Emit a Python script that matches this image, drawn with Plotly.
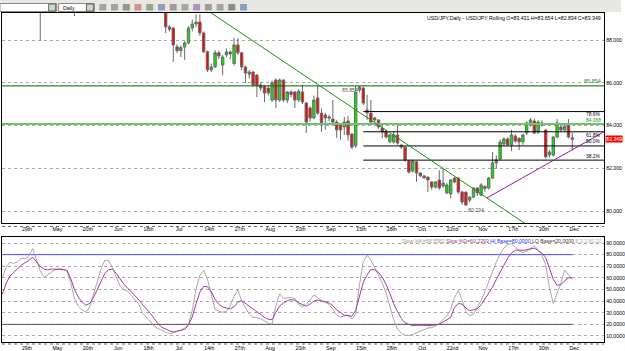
import plotly.graph_objects as go

W, H = 625, 351

# ---------------- data ----------------
bars = list(range(43, 151))
opens = [89.50, 88.61, 88.56, 87.68, 87.50, 87.67, 87.86, 88.56, 88.75, 88.84,
         88.33, 87.45, 86.60, 86.74, 87.40, 86.83, 87.30, 87.44, 86.90, 87.77,
         87.40, 86.74, 86.40, 86.50, 86.36, 85.90, 85.85, 85.75, 85.19, 86.13,
         85.19, 86.13, 85.19, 85.57, 85.57, 85.19, 85.57, 85.05, 84.82, 84.35,
         85.29, 84.58, 84.49, 84.40, 84.30, 84.16, 84.02, 83.93, 84.21, 83.60,
         83.05, 85.66, 85.75, 84.73, 84.58, 84.35, 84.26, 83.88, 83.74, 83.23,
         83.23, 83.56, 83.09, 82.99, 82.34, 81.87, 82.30, 81.78, 81.64, 81.59,
         81.36, 81.12, 81.45, 81.17, 80.84, 80.80, 81.54, 81.54, 80.89, 80.89,
         80.51, 80.65, 81.08, 80.75, 81.15, 81.08, 81.54, 82.25, 82.43, 83.13,
         83.37, 83.09, 83.50, 83.40, 83.23, 83.65, 84.02, 84.21, 83.70, 84.12,
         83.79, 82.62, 82.62, 83.46, 83.93, 83.79, 84.02, 83.431]
highs = [89.80, 88.70, 88.60, 87.80, 87.75, 87.95, 88.65, 88.95, 89.20, 89.20,
         88.40, 87.50, 86.90, 87.53, 87.50, 87.30, 87.60, 87.50, 88.10, 88.10,
         87.45, 86.80, 86.60, 86.55, 86.40, 86.00, 85.90, 85.90, 86.10, 86.20,
         86.20, 86.15, 85.60, 85.65, 85.60, 85.70, 85.90, 85.10, 84.90, 85.40,
         85.85, 84.80, 84.60, 84.50, 85.19, 84.25, 84.10, 84.40, 84.45, 83.65,
         85.854, 85.85, 85.82, 85.43, 85.20, 84.40, 84.30, 84.00, 83.80, 83.60,
         83.70, 84.02, 83.10, 83.00, 82.40, 82.40, 82.35, 81.80, 81.70, 81.60,
         81.40, 81.40, 81.90, 81.95, 81.30, 81.50, 81.60, 81.60, 80.95, 80.90,
         80.70, 81.10, 81.10, 81.30, 81.20, 81.60, 82.76, 82.60, 83.35, 83.45,
         83.45, 83.79, 83.60, 83.45, 83.60, 84.20, 84.35, 84.30, 84.25, 84.25,
         83.85, 82.85, 83.50, 84.30, 84.00, 84.10, 84.30, 83.654]
lows = [88.33, 88.40, 86.97, 87.39, 87.20, 87.06, 87.80, 88.40, 88.60, 88.20,
        87.40, 86.50, 86.50, 86.70, 87.10, 86.36, 87.20, 87.10, 86.80, 87.30,
        86.60, 85.99, 86.20, 85.80, 85.33, 85.60, 85.10, 85.40, 85.10, 84.82,
        85.10, 85.10, 85.05, 85.30, 84.82, 85.10, 85.00, 83.65, 84.20, 84.30,
        84.50, 83.70, 83.80, 84.20, 84.10, 83.42, 83.32, 83.55, 83.30, 82.90,
        82.95, 85.55, 84.95, 84.26, 84.10, 84.10, 83.85, 83.40, 83.40, 83.20,
        83.15, 83.10, 82.90, 82.30, 81.75, 81.80, 81.36, 81.60, 81.50, 80.89,
        81.00, 81.05, 81.00, 81.10, 80.80, 80.60, 81.30, 80.80, 80.30, 80.234,
        80.40, 80.60, 80.70, 80.70, 80.90, 81.00, 81.50, 82.00, 82.40, 83.05,
        83.05, 82.80, 83.20, 82.85, 83.10, 83.55, 83.95, 83.60, 83.60, 83.95,
        82.45, 82.50, 82.55, 83.40, 83.70, 83.70, 83.40, 82.834]
closes = [88.61, 88.50, 87.77, 87.50, 87.65, 87.86, 88.56, 88.75, 88.84, 88.33,
          87.45, 86.60, 86.74, 87.40, 87.25, 87.20, 87.44, 87.35, 87.77, 87.40,
          86.74, 86.46, 86.50, 85.90, 85.85, 85.75, 85.52, 85.52, 86.00, 85.19,
          86.13, 85.19, 85.57, 85.45, 85.19, 85.60, 85.10, 84.16, 84.35, 85.19,
          84.58, 84.12, 84.35, 84.35, 84.16, 83.79, 83.79, 84.16, 83.56, 82.99,
          85.55, 85.80, 85.05, 84.60, 84.16, 84.26, 83.93, 83.70, 83.46, 83.56,
          83.56, 83.18, 82.99, 82.39, 81.82, 82.34, 81.78, 81.64, 81.55, 81.45,
          81.12, 81.36, 81.08, 81.31, 81.22, 81.45, 81.36, 80.89, 80.42, 80.28,
          80.65, 81.08, 80.84, 81.22, 81.05, 81.54, 82.25, 82.39, 83.23, 83.37,
          83.09, 83.56, 83.27, 83.23, 83.56, 84.12, 84.26, 83.65, 84.16, 84.02,
          82.53, 82.76, 83.46, 84.12, 83.79, 83.97, 83.46, 83.349]

# earlier bars mostly above the visible price window (only their lower wicks show)
early_bars = [10, 19]
early_open = [90.60, 90.40]
early_high = [91.20, 90.80]
early_low = [87.98, 89.12]
early_close = [90.20, 90.00]

stoch_bars = list(range(0, 151))
stoch_k = [60, 69, 73.6, 72.5, 73.8, 77, 76.5, 79, 85.2, 75,
           66, 60.5, 63, 65.6, 67.3, 67.8, 67.4, 66, 56, 42,
           35.4, 32.5, 30.6, 35, 45, 56.6, 67.5, 75.2, 74.8, 69,
           60.5, 53, 50, 48.4, 45, 41, 37, 29.3, 25.7, 22.6,
           18.5, 16.3, 14.6, 12.8, 11.8, 12.8, 13.9, 15, 16.8, 20,
           32, 50.5, 62.2, 66.4, 58.8, 46, 33, 31.3, 30.4, 31.1,
           36, 44, 49.6, 40, 34.9, 28.7, 25.9, 25.9, 24.8, 23.1,
           21, 20.2, 36, 46.5, 42.5, 42.7, 43, 42.5, 37, 35,
           37.5, 41, 45.3, 43, 40, 38.9, 37, 33, 28, 26.2,
           27.3, 28.2, 24.6, 29, 54, 74, 79.5, 75.3, 69, 62.2,
           55.2, 47, 35, 24, 16, 12.5, 10.5, 10.4, 11.3, 12.8,
           14.5, 16, 16.8, 17.2, 18.4, 21, 24.5, 27.3, 32.7, 43,
           49, 41, 31, 27.4, 28.8, 34.2, 40.6, 48, 56.7, 65.4,
           73.8, 80.4, 85.8, 88.7, 89.4, 86.5, 83.4, 81.9, 83, 85.2,
           87.7, 84, 79.4, 71.3, 51.5, 38, 46.7, 55.3, 66.8, 62.2,
           58.5582]
stoch_d = [46, 55, 61.5, 64.8, 68, 70.9, 73.1, 75, 77.8, 74.2,
           69.8, 67.5, 66.9, 67.6, 67.7, 67.3, 67, 66.7, 59.7, 50,
           43.4, 39.3, 36.5, 38, 43, 49.9, 57.5, 64, 67.1, 67.7,
           64, 59, 54.5, 51.2, 48, 44.7, 40.9, 36.7, 33.4, 29.3,
           24.9, 20.5, 17.4, 15.6, 14.5, 13.4, 14, 14.9, 15.6, 19.5,
           26.4, 37.8, 47.7, 52.7, 52.4, 48.2, 41.5, 37.2, 35, 34.1,
           33.3, 35.2, 39, 40.4, 37.8, 35.5, 33.2, 31, 28.5, 26,
           24.4, 24, 30.4, 35.8, 38.4, 40.4, 41.3, 40.7, 38.5, 37,
           35.6, 37.5, 40, 40.9, 40.3, 39.6, 38.4, 36, 32.5, 30,
           27.9, 27.4, 27, 32, 45, 56.3, 62.5, 67.2, 67, 64.7,
           60.6, 54.4, 46.6, 37.7, 31, 25.2, 21.2, 19.8, 18.8, 19.2,
           19.4, 19.2, 18.8, 19, 19.5, 20.1, 22, 24, 26, 34.5,
           38, 37.3, 34, 31.7, 32.3, 33.5, 36.8, 42, 47, 52,
           58.6, 65, 71.4, 77, 81.5, 83.7, 84, 83.7, 84.3, 85,
           85.6, 83.6, 81.4, 77.5, 68.6, 58.7, 53.6, 54.3, 57.4, 60,
           60.2293]
hi_base, lo_base = 80.0, 20.0

swing_high, swing_low = 85.854, 80.234
support_level = 84.068
fib_ratios = [0.786, 0.618, 0.5, 0.382]
fib_labels = ["78.6%", "61.8%", "50.0%", "38.2%"]
fib_start_bar = 95

down_trend = [(50, 89.86), (145, 78.53)]
up_trend = [(127.5, 80.61), (165, 84.37)]

date_ticks = [6.5, 14.5, 22.5, 30.5, 38.5, 46.5, 54.5, 62.5, 70.5, 78.5,
              86.5, 94.5, 102.5, 110.5, 118.5, 126.5, 134.5, 142.5, 150.5]
date_labels = ["29th", "May", "20th", "Jun", "18th", "Jul", "14th", "27th", "Aug", "20th",
               "Sep", "15th", "28th", "Oct", "22nd", "Nov", "17th", "30th", "Dec"]
price_ticks = [80, 82, 84, 86, 88]
stoch_ticks = [10, 20, 30, 40, 50, 60, 70, 80, 90]

# ---------------- helpers ----------------
FONT = "Liberation Sans"
FS = 5.2
XR = [-0.07, 158.37]


def pyp(px):
    return 1 - px / H


def pxp(px):
    return px / W


fig = go.Figure()

fig.add_trace(go.Candlestick(
    x=early_bars + bars,
    open=early_open + opens, high=early_high + highs,
    low=early_low + lows, close=early_close + closes,
    increasing=dict(fillcolor="#00ee00", line=dict(color="#6a6a6a", width=1)),
    decreasing=dict(fillcolor="#ff0000", line=dict(color="#6a6a6a", width=1)),
    whiskerwidth=0, xaxis="x", yaxis="y", showlegend=False, hoverinfo="skip"))

fig.add_trace(go.Scatter(x=stoch_bars, y=[hi_base] * len(stoch_bars), mode="lines",
                         line=dict(color="#4b4bff", width=1), xaxis="x2", yaxis="y2",
                         showlegend=False, hoverinfo="skip"))
fig.add_trace(go.Scatter(x=stoch_bars, y=[lo_base] * len(stoch_bars), mode="lines",
                         line=dict(color="#505050", width=1), xaxis="x2", yaxis="y2",
                         showlegend=False, hoverinfo="skip"))
fig.add_trace(go.Scatter(x=stoch_bars, y=stoch_k, mode="lines",
                         line=dict(color="#a8a8a8", width=1), xaxis="x2", yaxis="y2",
                         showlegend=False, hoverinfo="skip"))
fig.add_trace(go.Scatter(x=stoch_bars, y=stoch_d, mode="lines",
                         line=dict(color="#a838a8", width=1), xaxis="x2", yaxis="y2",
                         showlegend=False, hoverinfo="skip"))

shapes = []
# toolbar strip
shapes.append(dict(type="rect", xref="paper", yref="paper", x0=0, x1=1, y0=pyp(12), y1=1,
                   fillcolor="#e9e7e2", line=dict(width=0), layer="below"))
for (a, b) in [(0, 57), (59, 95)]:
    shapes.append(dict(type="rect", xref="paper", yref="paper", x0=pxp(a), x1=pxp(b),
                       y0=pyp(11.5), y1=pyp(3.5), fillcolor="white",
                       line=dict(color="#8a8a8a", width=1)))
    shapes.append(dict(type="rect", xref="paper", yref="paper", x0=pxp(b - 8), x1=pxp(b - 1),
                       y0=pyp(11), y1=pyp(4), fillcolor="#cfd8c8",
                       line=dict(color="#5a6a5a", width=1)))
icon_cols = ["#6d6d6d", "#6d6d6d", "#505050", "#c05050", "#4a7a4a", "#506090", "#606060",
             "#707070", "#8050a0", "#606060", "#707070", "#404040", "#4060a0"]
for i, c in enumerate(icon_cols):
    x0 = 100 + i * 11.8
    shapes.append(dict(type="rect", xref="paper", yref="paper", x0=pxp(x0), x1=pxp(x0 + 7),
                       y0=pyp(10.5), y1=pyp(4), fillcolor=c, opacity=0.55, line=dict(width=0)))
# dashed tick rows under panels
for yy in (226.5, 344):
    shapes.append(dict(type="line", xref="paper", yref="paper", x0=pxp(2), x1=pxp(608),
                       y0=pyp(yy), y1=pyp(yy), line=dict(color="#6a6a6a", width=1, dash="3px,3px")))
# key horizontal levels
shapes.append(dict(type="line", xref="x domain", yref="y", x0=0, x1=1, y0=swing_high, y1=swing_high,
                   line=dict(color="#006400", width=1)))
shapes.append(dict(type="line", xref="x domain", yref="y", x0=0, x1=1, y0=support_level,
                   y1=support_level, line=dict(color="#6cc46c", width=2)))
# fibonacci levels
fib_levels = [swing_low + r * (swing_high - swing_low) for r in fib_ratios]
for lv in fib_levels:
    shapes.append(dict(type="line", xref="x", yref="y", x0=fib_start_bar, x1=XR[1], y0=lv, y1=lv,
                       line=dict(color="black", width=1)))
# trend lines
shapes.append(dict(type="line", xref="x", yref="y", x0=down_trend[0][0], y0=down_trend[0][1],
                   x1=down_trend[1][0], y1=down_trend[1][1], line=dict(color="#119911", width=1)))
shapes.append(dict(type="line", xref="x", yref="y", x0=up_trend[0][0], y0=up_trend[0][1],
                   x1=up_trend[1][0], y1=up_trend[1][1], line=dict(color="#9a1a9a", width=1)))

ann = []
small = dict(showarrow=False, borderpad=0)
LFS = 4.9
ann.append(dict(xref="paper", yref="paper", x=pxp(606), y=pyp(18), xanchor="right", yanchor="middle",
                text=f"USD/JPY,Daily - USD/JPY Rolling O={opens[-1]:.3f} H={highs[-1]:.3f} "
                     f"L={lows[-1]:.3f} C={closes[-1]:.3f}",
                font=dict(family=FONT, size=FS, color="black"), **small))
ann.append(dict(xref="paper", yref="y", x=pxp(606), y=swing_high, xanchor="right", yanchor="bottom",
                text=f"{swing_high:.3f}", yshift=1,
                font=dict(family=FONT, size=FS + 0.3, color="#2e8b2e"), **small))
ann.append(dict(xref="paper", yref="y", x=pxp(606), y=support_level, xanchor="right", yanchor="bottom",
                text=f"{support_level:.3f}", yshift=0.5,
                font=dict(family=FONT, size=LFS, color="#2e8b2e"), **small))
for lv, lab, anch, sh in zip(fib_levels, fib_labels, ["top", "top", "bottom", "bottom"],
                             [1.0, -0.5, 0.5, 0.5]):
    ann.append(dict(xref="paper", yref="y", x=pxp(606), y=lv, xanchor="right", yanchor=anch,
                    text=lab, yshift=sh, font=dict(family=FONT, size=LFS, color="black"), **small))
ann.append(dict(xref="x", yref="y", x=94, y=swing_high, xanchor="right", yanchor="top",
                text=f"{swing_high:.3f}", font=dict(family=FONT, size=FS, color="#555555"), **small))
ann.append(dict(xref="x", yref="y", x=122, y=swing_low, xanchor="left", yanchor="top", xshift=1,
                text=f"{swing_low:.3f}", font=dict(family=FONT, size=FS, color="#555555"), **small))
ann.append(dict(xref="paper", yref="y", x=pxp(609), y=closes[-1], xanchor="left", yanchor="middle",
                text=f"{closes[-1]:.3f}", bgcolor="#ff0000",
                font=dict(family=FONT, size=FS, color="white"), **small))
hdr = (f'<span style="color:#9a9a9a">Slow %K={stoch_k[-1]:.4f}</span> '
       f'<span style="color:#a030a0">Slow %D={stoch_d[-1]:.4f}</span> '
       f'<span style="color:#3030ff">HI Base={hi_base:.4f}</span> '
       f'<span style="color:#404040">LO Base={lo_base:.4f}</span> '
       f'<span style="color:#b0b0b0">8,3,3,80,20</span>')
ann.append(dict(xref="paper", yref="paper", x=pxp(606), y=pyp(240.5), xanchor="right", yanchor="middle",
                text=hdr, font=dict(family=FONT, size=FS), **small))
ann.append(dict(xref="paper", yref="paper", x=pxp(62), y=pyp(7.5), xanchor="left", yanchor="middle",
                text="Daily", font=dict(family=FONT, size=FS, color="black"), **small))

axis_common = dict(showline=True, mirror=True, linecolor="black", linewidth=1, zeroline=False,
                   tickfont=dict(family=FONT, size=FS, color="black"), fixedrange=True)

fig.update_layout(
    width=W, height=H, margin=dict(l=0, r=0, t=0, b=0),
    paper_bgcolor="white", plot_bgcolor="white", boxgap=0.1,
    showlegend=False, shapes=shapes, annotations=ann,
    xaxis=dict(domain=[pxp(2), pxp(608)], range=XR, anchor="y", tickvals=date_ticks,
               ticktext=date_labels, ticks="", showgrid=False, rangeslider=dict(visible=False),
               ticklabelstandoff=1, **axis_common),
    yaxis=dict(domain=[pyp(223), pyp(13)], range=[79.44, 89.263], anchor="x", side="right",
               tickvals=price_ticks, tickformat=".3f", ticks="", showgrid=True,
               gridcolor="#a8a8a8", griddash="dot", gridwidth=1, **axis_common),
    xaxis2=dict(domain=[pxp(2), pxp(608)], range=XR, anchor="y2", tickvals=date_ticks,
                ticktext=date_labels, ticks="", showgrid=False, ticklabelstandoff=1, **axis_common),
    yaxis2=dict(domain=[pyp(342), pyp(237)], range=[4.8, 95.2], anchor="x2", side="right",
                tickvals=stoch_ticks, tickformat=".4f", ticks="", showgrid=True,
                gridcolor="#a8a8a8", griddash="dot", gridwidth=1, **axis_common),
)

fig.write_html("out.html")
